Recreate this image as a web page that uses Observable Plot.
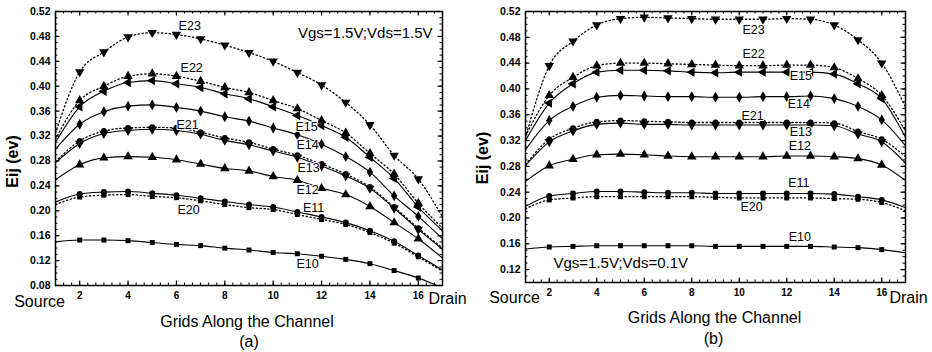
<!DOCTYPE html>
<html><head><meta charset="utf-8">
<script src="https://cdn.jsdelivr.net/npm/d3@7"></script>
<script src="https://cdn.jsdelivr.net/npm/@observablehq/plot@0.6"></script>
<style>
body{margin:0;background:#fff;}
#wrap{display:flex;width:932px;height:352px;font-family:"Liberation Sans",Arial,sans-serif;}
</style></head><body><div id="wrap"></div>
<script>
// ---------- data ----------
const grid = [1,2,3,4,5,6,7,8,9,10,11,12,13,14,15,16,17];
const xTickLabels = [2,4,6,8,10,12,14,16];
const seriesNames = ["E10","E11","E12","E13","E14","E15","E20","E21","E22","E23"];

// panel (a): Vgs=1.5V; Vds=1.5V
const a_E10 = [0.150,0.153,0.153,0.152,0.149,0.146,0.144,0.140,0.137,0.133,0.131,0.127,0.122,0.115,0.104,0.092,0.076];
const a_E11 = [0.214,0.227,0.230,0.231,0.228,0.225,0.220,0.215,0.210,0.206,0.198,0.190,0.181,0.168,0.151,0.128,0.105];
const a_E12 = [0.250,0.274,0.285,0.287,0.286,0.282,0.275,0.268,0.264,0.255,0.249,0.236,0.226,0.207,0.181,0.155,0.124];
const a_E13 = [0.277,0.308,0.324,0.329,0.331,0.329,0.323,0.313,0.306,0.296,0.286,0.272,0.256,0.236,0.204,0.170,0.138];
const a_E14 = [0.299,0.339,0.359,0.368,0.370,0.366,0.360,0.351,0.344,0.333,0.322,0.307,0.287,0.262,0.224,0.191,0.155];
const a_E15 = [0.310,0.367,0.392,0.406,0.409,0.404,0.398,0.388,0.380,0.367,0.353,0.337,0.318,0.286,0.252,0.206,0.168];
const a_E20 = [0.210,0.222,0.225,0.226,0.223,0.221,0.216,0.210,0.205,0.202,0.194,0.186,0.178,0.165,0.148,0.126,0.103];
const a_E21 = [0.279,0.312,0.328,0.333,0.334,0.333,0.326,0.317,0.310,0.299,0.289,0.275,0.259,0.238,0.206,0.172,0.140];
const a_E22 = [0.315,0.377,0.400,0.416,0.420,0.416,0.408,0.398,0.390,0.377,0.364,0.345,0.325,0.292,0.259,0.212,0.172];
const a_E23 = [0.325,0.423,0.455,0.479,0.486,0.483,0.476,0.466,0.454,0.440,0.422,0.402,0.374,0.338,0.289,0.251,0.190];

// panel (b): Vgs=1.5V; Vds=0.1V
const b_E10 = [0.152,0.155,0.156,0.157,0.157,0.157,0.157,0.157,0.156,0.156,0.156,0.156,0.156,0.155,0.154,0.151,0.146];
const b_E11 = [0.218,0.234,0.238,0.241,0.241,0.240,0.239,0.239,0.238,0.238,0.238,0.238,0.238,0.237,0.233,0.228,0.216];
const b_E12 = [0.257,0.281,0.291,0.298,0.299,0.298,0.296,0.295,0.295,0.295,0.295,0.296,0.296,0.295,0.292,0.282,0.258];
const b_E13 = [0.281,0.318,0.335,0.345,0.347,0.345,0.345,0.344,0.344,0.344,0.344,0.344,0.344,0.343,0.330,0.318,0.285];
const b_E14 = [0.306,0.351,0.373,0.387,0.390,0.389,0.388,0.388,0.387,0.387,0.388,0.388,0.389,0.385,0.373,0.352,0.312];
const b_E15 = [0.320,0.378,0.408,0.426,0.429,0.429,0.428,0.426,0.425,0.426,0.426,0.426,0.426,0.423,0.408,0.385,0.325];
const b_E20 = [0.214,0.228,0.231,0.233,0.233,0.233,0.233,0.233,0.232,0.231,0.231,0.231,0.231,0.230,0.229,0.224,0.211];
const b_E21 = [0.283,0.322,0.339,0.349,0.351,0.350,0.349,0.348,0.348,0.348,0.348,0.348,0.348,0.347,0.334,0.322,0.295];
const b_E22 = [0.327,0.390,0.418,0.436,0.440,0.440,0.439,0.438,0.437,0.436,0.436,0.437,0.437,0.433,0.416,0.390,0.335];
const b_E23 = [0.325,0.436,0.474,0.499,0.509,0.511,0.510,0.509,0.508,0.508,0.508,0.509,0.508,0.499,0.476,0.440,0.372];

// curve labels (data coordinates)
const labelNames = ["E23","E22","E21","E20","E15","E14","E13","E12","E11","E10"];
const a_labelX = [6.55,6.63,6.46,6.50,11.38,11.42,11.46,11.42,11.67,11.42];
const a_labelY = [0.4975,0.430,0.337,0.202,0.334,0.306,0.269,0.233,0.205,0.115];
const b_labelX = [10.60,10.60,10.56,10.52,12.59,12.51,12.59,12.55,12.51,12.55];
const b_labelY = [0.492,0.454,0.358,0.217,0.420,0.376,0.334,0.312,0.254,0.170];

// ---------- symbols ----------
const sqrt3 = Math.sqrt(3);
const triDown = {draw(c, size){ const y = -Math.sqrt(size/(sqrt3*3)); c.moveTo(0,-2*y); c.lineTo(-sqrt3*y, y); c.lineTo(sqrt3*y, y); c.closePath(); }};
const triLeft = {draw(c, size){ const y = -Math.sqrt(size/(sqrt3*3)); c.moveTo(2*y,0); c.lineTo(-y, sqrt3*y); c.lineTo(-y, -sqrt3*y); c.closePath(); }};
const style = {
  E10:{symbol:"square", r:2.8, dotted:false},
  E11:{symbol:"circle", r:3.0, dotted:false},
  E12:{symbol:"triangle", r:3.5, dotted:false},
  E13:{symbol:triDown, r:3.5, dotted:false},
  E14:{symbol:"diamond", r:3.3, dotted:false},
  E15:{symbol:triLeft, r:3.5, dotted:false},
  E20:{symbol:"square", r:2.8, dotted:true},
  E21:{symbol:"circle", r:3.0, dotted:true},
  E22:{symbol:"triangle", r:3.5, dotted:true},
  E23:{symbol:triDown, r:3.5, dotted:true}
};

const FONT = '"Liberation Sans", Arial, sans-serif';

function makePanel(cfg){
  const {width, height, mt, mr, mb, ml, yDomain, yMajor, yMinorStart, series, labX, labY, cond, panel, src, drn, title, ylab} = cfg;
  const iw = width - ml - mr, ih = height - mt - mb;
  const xMinor = d3.range(0, 49).map(i => 1 + i/3);
  const yMinor = d3.range(Math.round(yMinorStart*100), 53).map(v => v/100);
  const marks = [];
  for (const name of seriesNames) {
    const vals = series[name];
    const rows = grid.map((g,i) => ({x:g, y:vals[i]}));
    const st = style[name];
    marks.push(Plot.line(rows, {x:"x", y:"y", curve:"monotone-x", stroke:"black",
      strokeWidth: st.dotted ? 1.3 : 1.1, strokeDasharray: st.dotted ? "1.3,2.6" : null, clip:true}));
    marks.push(Plot.dot(rows.filter(d => d.x > 1 && d.x < 17), {x:"x", y:"y", symbol: st.symbol, r: st.r, fill:"black", stroke:"none"}));
  }
  const T = {lineAnchor:"middle", textAnchor:"middle", fill:"black"};
  marks.push(
    Plot.tickX(xMinor, {x:d=>d, insetTop: ih-2.5, stroke:"black"}),
    Plot.tickX(xMinor, {x:d=>d, insetBottom: ih-2.5, stroke:"black"}),
    Plot.tickX(xTickLabels, {x:d=>d, insetTop: ih-4.5, stroke:"black", strokeWidth:1.2}),
    Plot.tickX(xTickLabels, {x:d=>d, insetBottom: ih-4.5, stroke:"black", strokeWidth:1.2}),
    Plot.tickY(yMinor, {y:d=>d, insetRight: iw-2.5, stroke:"black"}),
    Plot.tickY(yMinor, {y:d=>d, insetLeft: iw-2.5, stroke:"black"}),
    Plot.tickY(yMajor, {y:d=>d, insetRight: iw-4.5, stroke:"black", strokeWidth:1.2}),
    Plot.tickY(yMajor, {y:d=>d, insetLeft: iw-4.5, stroke:"black", strokeWidth:1.2}),
    Plot.axisX(xTickLabels, {tickSize:0, tickPadding:6, fontSize:10, fontWeight:"bold", label:null}),
    Plot.axisY(yMajor, {tickSize:0, tickPadding:5, fontSize:10.5, fontWeight:"bold", tickFormat:d3.format(".2f"), label:null}),
    Plot.frame({stroke:"black", strokeWidth:1.5}),
    Plot.text(labelNames.map((n,i)=>({n, x:labX[i], y:labY[i]})), {x:"x", y:"y", text:"n", fontSize:12.5, fill:"black", stroke:"white", strokeWidth:2, paintOrder:"stroke"}),
    Plot.text([cond.text], {text:d=>d, frameAnchor:cond.anchor, lineAnchor:"middle", textAnchor:cond.textAnchor, dx:cond.dx, dy:cond.dy, fontSize:15}),
    Plot.text(["Source"], {...T, text:d=>d, frameAnchor:"bottom-left", dx:src.dx, dy:src.dy, fontSize:16}),
    Plot.text(["Drain"], {...T, text:d=>d, frameAnchor:"bottom-right", dx:drn.dx, dy:drn.dy, fontSize:16}),
    Plot.text(["Grids Along the Channel"], {...T, text:d=>d, frameAnchor:"bottom", dx:title.dx, dy:title.dy, fontSize:16}),
    Plot.text([panel.text], {...T, text:d=>d, frameAnchor:"bottom", dx:panel.dx, dy:panel.dy, fontSize:16}),
    Plot.text(["Eij (ev)"], {...T, text:d=>d, frameAnchor:"left", rotate:-90, dx:ylab.dx, dy:ylab.dy, fontSize:16, fontWeight:"bold"})
  );
  return Plot.plot({
    width, height, marginTop:mt, marginRight:mr, marginBottom:mb, marginLeft:ml,
    x:{domain:[1,17], axis:null},
    y:{domain:yDomain, axis:null},
    style:{fontFamily:FONT, color:"black", background:"white", overflow:"visible"},
    marks
  });
}

const wrap = document.getElementById("wrap");
wrap.append(makePanel({
  width:470, height:352, mt:11, mr:28, mb:67, ml:55,
  yDomain:[0.08,0.52], yMajor:d3.range(8,53,4).map(v=>v/100), yMinorStart:0.08,
  series:{E10:a_E10,E11:a_E11,E12:a_E12,E13:a_E13,E14:a_E14,E15:a_E15,E20:a_E20,E21:a_E21,E22:a_E22,E23:a_E23},
  labX:a_labelX, labY:a_labelY,
  cond:{text:"Vgs=1.5V;Vds=1.5V", anchor:"top-right", textAnchor:"end", dx:-10, dy:22},
  panel:{text:"(a)", dx:0, dy:56},
  src:{dx:-16, dy:16}, drn:{dx:5, dy:13},
  title:{dx:-2, dy:36}, ylab:{dx:-43, dy:13}
}));
wrap.append(makePanel({
  width:462, height:352, mt:11, mr:27, mb:70, ml:55,
  yDomain:[0.10,0.52], yMajor:d3.range(12,53,4).map(v=>v/100), yMinorStart:0.10,
  series:{E10:b_E10,E11:b_E11,E12:b_E12,E13:b_E13,E14:b_E14,E15:b_E15,E20:b_E20,E21:b_E21,E22:b_E22,E23:b_E23},
  labX:b_labelX, labY:b_labelY,
  cond:{text:"Vgs=1.5V;Vds=0.1V", anchor:"bottom-left", textAnchor:"start", dx:28, dy:-19},
  panel:{text:"(b)", dx:-2, dy:56},
  src:{dx:-11, dy:15}, drn:{dx:3, dy:15},
  title:{dx:-1, dy:35}, ylab:{dx:-43, dy:11}
}));
</script></body></html>
